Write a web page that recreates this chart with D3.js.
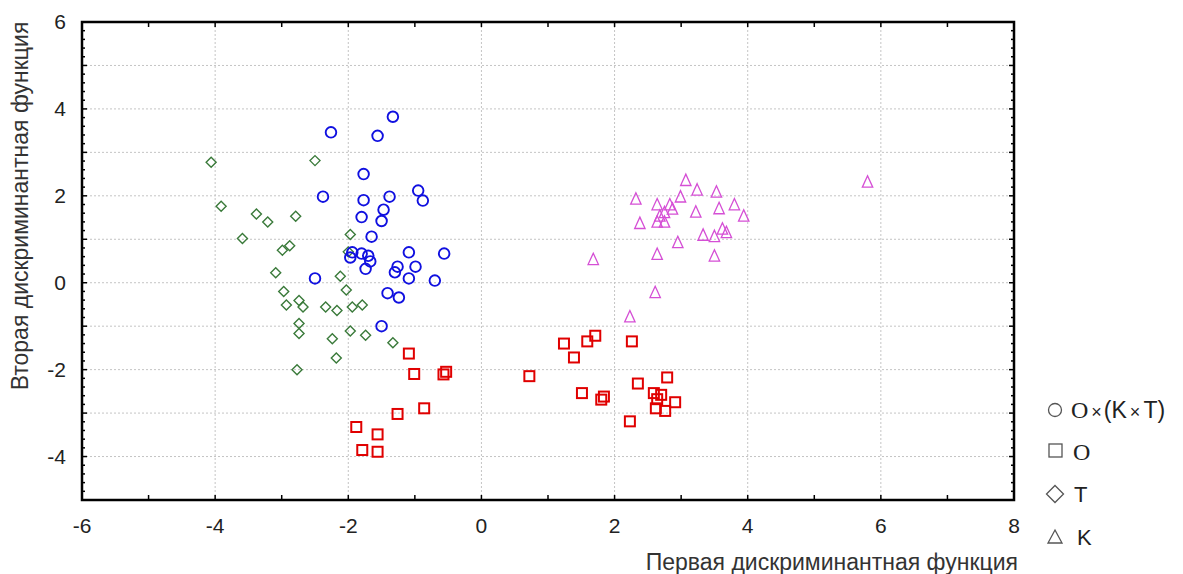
<!DOCTYPE html>
<html>
<head>
<meta charset="utf-8">
<script src="https://cdn.jsdelivr.net/npm/d3@7"></script>
<style>
  body { margin: 0; background: #fff; }
  text { font-family: "Liberation Sans", Arial, sans-serif; fill: #222; }
</style>
</head>
<body>
<svg width="1183" height="574"></svg>
<script>
// group O x (K x T) -- circles
var circlePts = [
  [-1.33, 3.82], [-2.26, 3.46], [-1.56, 3.38], [-1.77, 2.50], [-2.38, 1.98],
  [-1.77, 1.90], [-1.38, 1.98], [-0.95, 2.12], [-0.88, 1.89], [-1.47, 1.68],
  [-1.80, 1.51], [-1.50, 1.42], [-1.65, 1.06], [-1.94, 0.70], [-1.97, 0.58],
  [-1.80, 0.67], [-1.70, 0.62], [-1.67, 0.49], [-1.74, 0.32], [-1.09, 0.70],
  [-0.56, 0.67], [-1.26, 0.37], [-1.30, 0.24], [-0.99, 0.37], [-1.09, 0.10],
  [-0.70, 0.05], [-2.50, 0.10], [-1.41, -0.24], [-1.24, -0.34], [-1.50, -1.00]
];
// group O -- squares
var squarePts = [
  [-1.09, -1.63], [-1.01, -2.10], [-0.53, -2.05], [-0.57, -2.11], [-0.86, -2.89],
  [-1.26, -3.02], [-1.88, -3.32], [-1.56, -3.49], [-1.79, -3.85], [-1.56, -3.89],
  [0.72, -2.15], [1.24, -1.40], [1.39, -1.72], [1.59, -1.35], [1.71, -1.22],
  [2.26, -1.35], [1.51, -2.54], [1.84, -2.62], [1.80, -2.69], [2.35, -2.32],
  [2.79, -2.18], [2.59, -2.54], [2.70, -2.58], [2.64, -2.68], [2.91, -2.75],
  [2.62, -2.89], [2.76, -2.95], [2.23, -3.19]
];
// group T -- diamonds
var diamondPts = [
  [-4.06, 2.77], [-2.50, 2.81], [-3.91, 1.76], [-3.38, 1.58], [-3.21, 1.40],
  [-2.79, 1.53], [-3.59, 1.02], [-1.97, 1.11], [-2.99, 0.75], [-2.88, 0.85],
  [-2.00, 0.71], [-3.09, 0.23], [-2.12, 0.15], [-2.97, -0.20], [-2.03, -0.17],
  [-2.74, -0.41], [-2.93, -0.51], [-2.68, -0.56], [-2.34, -0.56], [-2.17, -0.64],
  [-1.94, -0.56], [-1.79, -0.51], [-2.74, -0.94], [-2.74, -1.17], [-1.97, -1.11],
  [-2.24, -1.29], [-1.74, -1.21], [-1.33, -1.38], [-2.18, -1.73], [-2.77, -2.00]
];
// group K -- triangles
var trianglePts = [
  [3.07, 2.35], [5.80, 2.31], [3.24, 2.13], [3.53, 2.08], [2.32, 1.92],
  [2.99, 1.97], [2.64, 1.79], [2.83, 1.79], [2.87, 1.69], [2.75, 1.61],
  [3.80, 1.79], [3.57, 1.70], [3.94, 1.53], [3.22, 1.62], [2.38, 1.36],
  [2.64, 1.39], [2.75, 1.39], [2.68, 1.53], [3.62, 1.23], [3.68, 1.15],
  [3.33, 1.09], [3.50, 1.06], [2.95, 0.92], [2.64, 0.65], [3.50, 0.61],
  [1.68, 0.53], [2.61, -0.23], [2.23, -0.79]
];

var xTicks = [-6, -4, -2, 0, 2, 4, 6, 8],
    yTicks = [6, 4, 2, 0, -2, -4];

var svg = d3.select("svg"),
    margin = {top: 22, right: 169, bottom: 74, left: 82},
    width = svg.attr("width") - margin.left - margin.right,
    height = svg.attr("height") - margin.top - margin.bottom,
    g = svg.append("g").attr("transform", "translate(" + margin.left + "," + margin.top + ")");

var x = d3.scaleLinear().domain([-6, 8]).range([0, width]),
    y = d3.scaleLinear().domain([-5, 6]).range([height, 0]);

// grid
g.selectAll(".gx").data(d3.range(-4, 8, 2)).enter().append("line")
    .attr("x1", function (d) { return x(d); }).attr("x2", function (d) { return x(d); })
    .attr("y1", 0).attr("y2", height)
    .attr("stroke", "#c4c4c4").attr("stroke-width", 1).attr("stroke-dasharray", "2,2");
g.selectAll(".gy").data(d3.range(-4, 6, 1)).enter().append("line")
    .attr("y1", function (d) { return y(d); }).attr("y2", function (d) { return y(d); })
    .attr("x1", 0).attr("x2", width)
    .attr("stroke", "#c4c4c4").attr("stroke-width", 1).attr("stroke-dasharray", "2,2");

// ticks (inward)
d3.range(-5, 8, 1).forEach(function (d) {
    g.append("line").attr("x1", x(d)).attr("x2", x(d)).attr("y1", height).attr("y2", height - 5)
        .attr("stroke", "#000").attr("stroke-width", 1.5);
    g.append("line").attr("x1", x(d)).attr("x2", x(d)).attr("y1", 0).attr("y2", 5)
        .attr("stroke", "#000").attr("stroke-width", 1.5);
});
d3.range(-24, 30, 1).forEach(function (i) {
    var v = i / 5;
    var len = (i % 5 === 0) ? 5 : 3;
    g.append("line").attr("x1", 0).attr("x2", len).attr("y1", y(v)).attr("y2", y(v))
        .attr("stroke", "#000").attr("stroke-width", 1.5);
    g.append("line").attr("x1", width).attr("x2", width - len).attr("y1", y(v)).attr("y2", y(v))
        .attr("stroke", "#000").attr("stroke-width", 1.5);
});

// frame
g.append("rect").attr("width", width).attr("height", height)
    .attr("fill", "none").attr("stroke", "#000").attr("stroke-width", 2.5);

// tick labels
g.selectAll(".xl").data(xTicks).enter().append("text")
    .attr("x", function (d) { return x(d); }).attr("y", height + 33)
    .attr("text-anchor", "middle").style("font-size", "21px")
    .text(function (d) { return d; });
g.selectAll(".yl").data(yTicks).enter().append("text")
    .attr("x", -16).attr("y", function (d) { return y(d); }).attr("dy", "0.35em")
    .attr("text-anchor", "end").style("font-size", "21px")
    .text(function (d) { return d; });

// axis titles
svg.append("text").attr("x", 1018).attr("y", 570).attr("text-anchor", "end")
    .style("font-size", "23px").style("fill", "#333")
    .text("Первая дискриминантная функция");
svg.append("text").attr("transform", "translate(28,206) rotate(-90)")
    .attr("text-anchor", "middle").style("font-size", "23px").style("fill", "#333")
    .text("Вторая дискриминантная функция");

// marker shapes
function diamond(s) { return "M0," + (-s) + "L" + s + ",0L0," + s + "L" + (-s) + ",0Z"; }
function triangle(s) { return "M0," + (-s) + "L" + (s * 0.8) + "," + (s * 0.75) + "L" + (-s * 0.8) + "," + (s * 0.75) + "Z"; }

g.selectAll(".tri").data(trianglePts).enter().append("path")
    .attr("transform", function (d) { return "translate(" + x(d[0]) + "," + y(d[1]) + ")"; })
    .attr("d", triangle(6.5)).attr("fill", "none").attr("stroke", "#d54fd5").attr("stroke-width", 1.3);

g.selectAll(".dia").data(diamondPts).enter().append("path")
    .attr("transform", function (d) { return "translate(" + x(d[0]) + "," + y(d[1]) + ")"; })
    .attr("d", diamond(5)).attr("fill", "none").attr("stroke", "#3a7a3a").attr("stroke-width", 1.4);

g.selectAll(".sq").data(squarePts).enter().append("rect")
    .attr("x", function (d) { return x(d[0]) - 5; }).attr("y", function (d) { return y(d[1]) - 5; })
    .attr("width", 10).attr("height", 10)
    .attr("fill", "none").attr("stroke", "#e00000").attr("stroke-width", 2);

g.selectAll(".ci").data(circlePts).enter().append("circle")
    .attr("cx", function (d) { return x(d[0]); }).attr("cy", function (d) { return y(d[1]); })
    .attr("r", 5.3).attr("fill", "none").attr("stroke", "#1010e0").attr("stroke-width", 1.9);

// legend
var leg = svg.append("g");
var lc = "#555";
leg.append("circle").attr("cx", 1055).attr("cy", 410).attr("r", 6.5)
    .attr("fill", "none").attr("stroke", lc).attr("stroke-width", 1.3);
leg.append("rect").attr("x", 1049).attr("y", 444).attr("width", 13).attr("height", 13)
    .attr("fill", "none").attr("stroke", lc).attr("stroke-width", 1.3);
leg.append("path").attr("transform", "translate(1055,494)").attr("d", diamond(8.5))
    .attr("fill", "none").attr("stroke", lc).attr("stroke-width", 1.3);
leg.append("path").attr("transform", "translate(1055,537)").attr("d", "M0,-7L7,6L-7,6Z")
    .attr("fill", "none").attr("stroke", lc).attr("stroke-width", 1.3);

var t1 = leg.append("text").attr("x", 1071).attr("y", 418).style("font-size", "23px")
    .attr("xml:space", "preserve").style("white-space", "pre");
t1.append("tspan").style("font-family", "'Liberation Serif', serif").style("font-size", "24px").text("O");
t1.append("tspan").attr("dx", 3).style("font-size", "18px").text("×");
t1.append("tspan").attr("dx", 2).text("(K");
t1.append("tspan").attr("dx", 3).style("font-size", "18px").text("×");
t1.append("tspan").attr("dx", 3).text("T)");
leg.append("text").attr("x", 1073).attr("y", 460).style("font-size", "24px")
    .style("font-family", "'Liberation Serif', serif").text("O");
leg.append("text").attr("x", 1074).attr("y", 502).style("font-size", "22px").text("T");
leg.append("text").attr("x", 1077).attr("y", 545).style("font-size", "22px").text("K");
</script>
</body>
</html>
